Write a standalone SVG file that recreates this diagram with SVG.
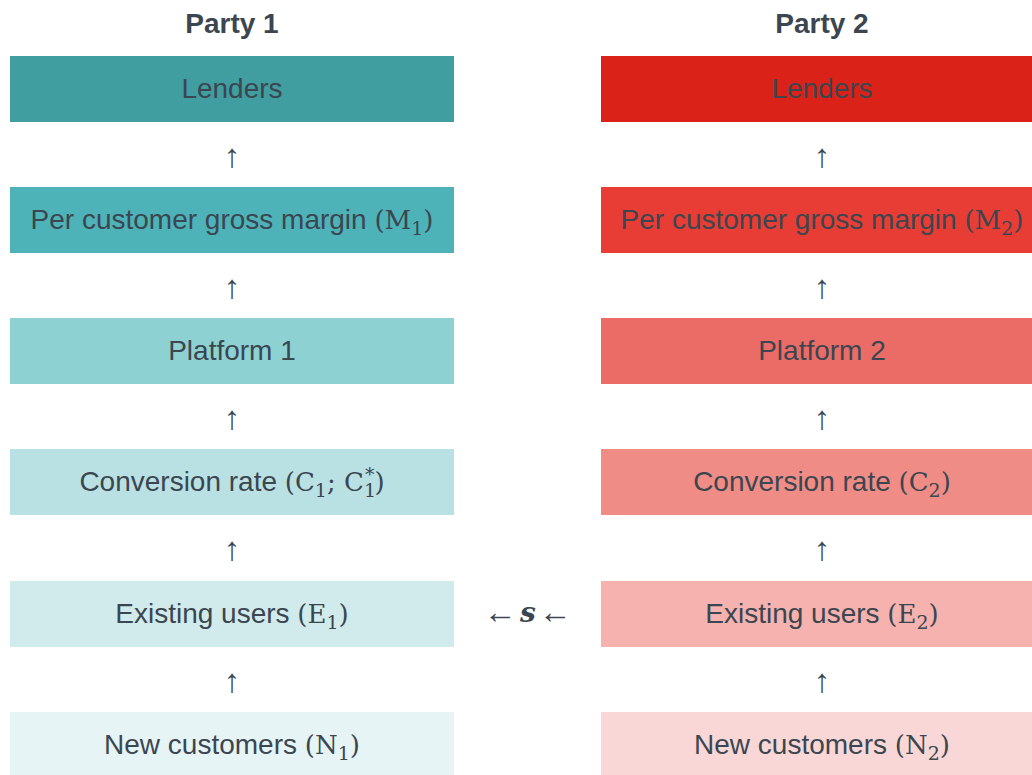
<svg xmlns="http://www.w3.org/2000/svg" width="1032" height="775" viewBox="0 0 1032 775">
  <style>
    text { font-family: "Liberation Sans", Arial, sans-serif; fill: #3b4650; text-anchor: middle; }
    .lbl { font-size: 28px; }
    .hdr { font-size: 28px; font-weight: bold; }
    .m { font-family: "DejaVu Serif", "Liberation Serif", serif; font-size: 26px; }
    .sub { font-family: "DejaVu Serif", "Liberation Serif", serif; font-size: 19px; }
    .arr { font-family: "Liberation Serif", "DejaVu Serif", serif; font-size: 33px; }
    .s { font-family: "DejaVu Serif", "Liberation Serif", serif; font-size: 28px; font-weight: bold; font-style: italic; }
  </style>
  <rect width="1032" height="775" fill="#ffffff"/>

  <!-- headers -->
  <text class="hdr" x="232" y="33">Party 1</text>
  <text class="hdr" x="822" y="33">Party 2</text>

  <!-- Party 1 column -->
  <g id="p1-lenders">
    <rect x="10" y="56" width="444" height="66" fill="#409da0"/>
    <text class="lbl" x="232" y="98">Lenders</text>
  </g>
  <g id="p1-margin">
    <rect x="10" y="187" width="444" height="66" fill="#4db3b8"/>
    <text class="lbl" x="232" y="229">Per customer gross margin <tspan class="m">(M</tspan><tspan class="sub" dy="6">1</tspan><tspan class="m" dy="-6">)</tspan></text>
  </g>
  <g id="p1-platform">
    <rect x="10" y="318" width="444" height="66" fill="#8dd1d3"/>
    <text class="lbl" x="232" y="360">Platform 1</text>
  </g>
  <g id="p1-conversion">
    <rect x="10" y="449" width="444" height="66" fill="#b9e1e3"/>
    <text class="lbl" x="232" y="491">Conversion rate <tspan class="m">(C</tspan><tspan class="sub" dy="6">1</tspan><tspan class="m" dy="-6">; C</tspan><tspan class="sub" dy="6">1</tspan><tspan class="sub" dx="-11" dy="-16">*</tspan><tspan class="m" dy="10">)</tspan></text>
  </g>
  <g id="p1-existing">
    <rect x="10" y="581" width="444" height="66" fill="#d1ebec"/>
    <text class="lbl" x="232" y="623">Existing users <tspan class="m">(E</tspan><tspan class="sub" dy="6">1</tspan><tspan class="m" dy="-6">)</tspan></text>
  </g>
  <g id="p1-new">
    <rect x="10" y="712" width="444" height="66" fill="#e6f4f5"/>
    <text class="lbl" x="232" y="754">New customers <tspan class="m">(N</tspan><tspan class="sub" dy="6">1</tspan><tspan class="m" dy="-6">)</tspan></text>
  </g>

  <!-- Party 2 column -->
  <g id="p2-lenders">
    <rect x="601" y="56" width="431" height="66" fill="#da2219"/>
    <text class="lbl" x="822" y="98">Lenders</text>
  </g>
  <g id="p2-margin">
    <rect x="601" y="187" width="431" height="66" fill="#e73d34"/>
    <text class="lbl" x="822" y="229">Per customer gross margin <tspan class="m">(M</tspan><tspan class="sub" dy="6">2</tspan><tspan class="m" dy="-6">)</tspan></text>
  </g>
  <g id="p2-platform">
    <rect x="601" y="318" width="431" height="66" fill="#eb6b66"/>
    <text class="lbl" x="822" y="360">Platform 2</text>
  </g>
  <g id="p2-conversion">
    <rect x="601" y="449" width="431" height="66" fill="#f08c86"/>
    <text class="lbl" x="822" y="491">Conversion rate <tspan class="m">(C</tspan><tspan class="sub" dy="6">2</tspan><tspan class="m" dy="-6">)</tspan></text>
  </g>
  <g id="p2-existing">
    <rect x="601" y="581" width="431" height="66" fill="#f5b2af"/>
    <text class="lbl" x="822" y="623">Existing users <tspan class="m">(E</tspan><tspan class="sub" dy="6">2</tspan><tspan class="m" dy="-6">)</tspan></text>
  </g>
  <g id="p2-new">
    <rect x="601" y="712" width="431" height="66" fill="#f9d7d6"/>
    <text class="lbl" x="822" y="754">New customers <tspan class="m">(N</tspan><tspan class="sub" dy="6">2</tspan><tspan class="m" dy="-6">)</tspan></text>
  </g>

  <!-- connectors: arrow glyphs between stages -->
  <g id="connectors">
    <text class="arr" x="232" y="167">↑</text>
    <text class="arr" x="232" y="298">↑</text>
    <text class="arr" x="232" y="429">↑</text>
    <text class="arr" x="232" y="560">↑</text>
    <text class="arr" x="232" y="692">↑</text>
    <text class="arr" x="822" y="167">↑</text>
    <text class="arr" x="822" y="298">↑</text>
    <text class="arr" x="822" y="429">↑</text>
    <text class="arr" x="822" y="560">↑</text>
    <text class="arr" x="822" y="692">↑</text>
    <text class="arr" x="500" y="623">←</text>
    <text class="s" x="528" y="622">s</text>
    <text class="arr" x="555" y="623">←</text>
  </g>
</svg>
